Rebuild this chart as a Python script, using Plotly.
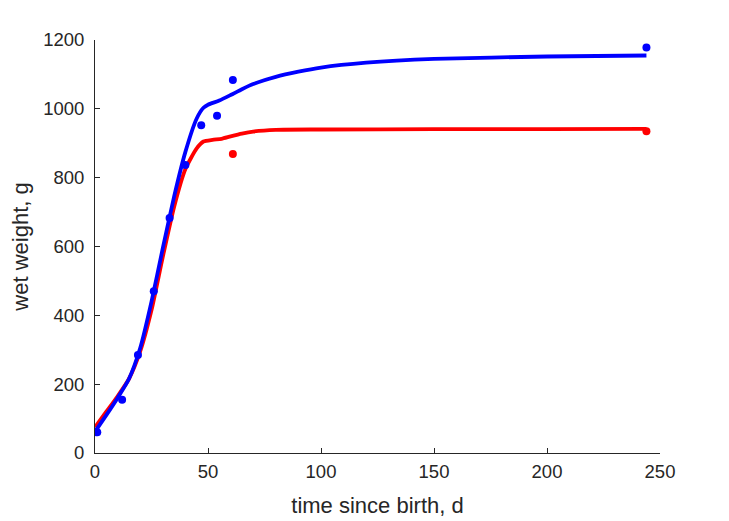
import plotly.graph_objects as go

# model curves
t_model = [0, 5, 10, 15, 20, 25, 30, 35, 40, 45, 48, 50, 55, 60, 65, 70, 80, 90, 100, 120, 150, 200, 244]
w_blue_model = [62, 110, 160, 215, 305, 440, 595, 745, 875, 972, 1003, 1012, 1024, 1040, 1057, 1072, 1093, 1108, 1120, 1134, 1145, 1152, 1155]
t_model_red = [0, 5, 10, 15, 20, 25, 30, 35, 40, 45, 48, 52, 56, 60, 65, 70, 80, 100, 150, 200, 244]
w_red_model = [75, 120, 165, 215, 295, 415, 570, 715, 825, 885, 905, 910, 913, 920, 928, 934, 939, 940, 941, 941, 942]

# observations
t_blue = [1, 12, 19, 26, 33, 40, 47, 54, 61, 244]
w_blue = [60, 155, 285, 470, 683, 837, 952, 980, 1084, 1178]
t_red = [61, 244]
w_red = [869, 935]

fig = go.Figure()
fig.add_trace(go.Scatter(x=t_model_red, y=w_red_model, mode="lines",
                         line=dict(color="#ff0000", width=3.8, shape="spline", smoothing=0.6)))
fig.add_trace(go.Scatter(x=t_red, y=w_red, mode="markers",
                         marker=dict(color="#ff0000", size=8)))
fig.add_trace(go.Scatter(x=t_model, y=w_blue_model, mode="lines",
                         line=dict(color="#0000ff", width=3.8, shape="spline", smoothing=0.6)))
fig.add_trace(go.Scatter(x=t_blue, y=w_blue, mode="markers",
                         marker=dict(color="#0000ff", size=8)))

FONT = "Liberation Sans, Arial"
axis_common = dict(showgrid=False, zeroline=False, showline=True, linecolor="#262626",
                   linewidth=1, ticks="inside", ticklen=5, tickcolor="#262626",
                   tickfont=dict(family=FONT, size=18.5, color="#262626"),
                   mirror=False, automargin=False)
fig.update_layout(
    width=729, height=521,
    margin=dict(l=95, r=69, t=40, b=68),
    paper_bgcolor="white", plot_bgcolor="white",
    showlegend=False,
    xaxis=dict(range=[0, 250], tickvals=[0, 50, 100, 150, 200, 250],
               ticklabelstandoff=2,
               title=dict(text="time since birth, d", standoff=16,
                          font=dict(family=FONT, size=22, color="#262626")),
               **axis_common),
    yaxis=dict(range=[0, 1200], tickvals=[0, 200, 400, 600, 800, 1000, 1200],
               ticklabelstandoff=6,
               title=dict(text="wet weight, g", standoff=8,
                          font=dict(family=FONT, size=22, color="#262626")),
               **axis_common),
)
fig.write_html("out.html")
